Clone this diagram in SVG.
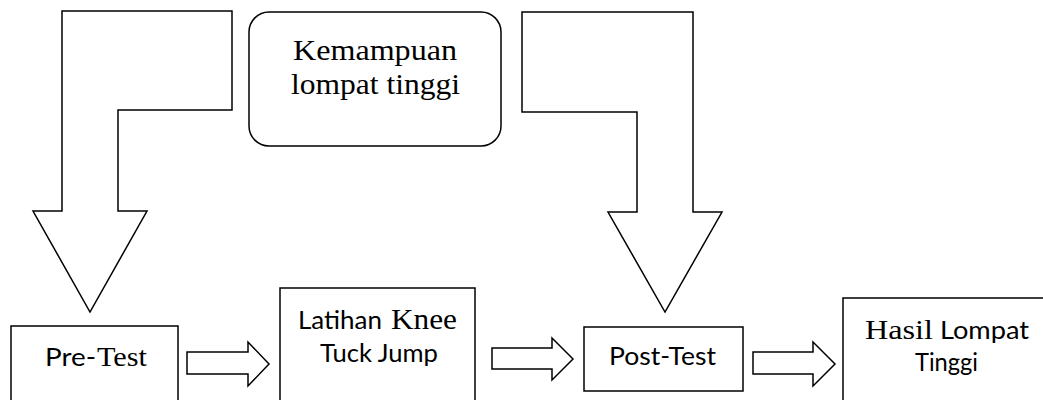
<svg xmlns="http://www.w3.org/2000/svg" width="1043" height="400" viewBox="0 0 1043 400">
<style>
.shape{fill:#fff;stroke:#000;stroke-width:1.5;stroke-linejoin:miter}
.serif{font-family:"Liberation Serif","Times New Roman",serif;fill:#000}
.sans{font-family:Lato,"Liberation Sans",Arial,sans-serif;fill:#000;font-size:25px}
</style>
<rect width="1043" height="400" fill="#fff"/>
<g id="connectors">
<polygon class="shape" points="62,11 232,11 232,110 118,110 118,211 147,211 90,312 33,211 62,211"/>
<polygon class="shape" points="522,12 693,12 693,212 722,212 665,312 608,212 637,212 637,112 522,112"/>
<polygon class="shape" points="187,352 248,352 248,342 269,364 248,386 248,374 187,374"/>
<polygon class="shape" points="492,348 552,348 552,338 573,359 552,380 552,369 492,369"/>
<polygon class="shape" points="753,352 813,352 813,342 835,364 813,386 813,374 753,374"/>
</g>
<g id="kemampuan">
<rect class="shape" x="249" y="12" width="252" height="134" rx="20" ry="20"/>
<text class="serif" font-size="30" x="293" y="60" textLength="164" lengthAdjust="spacingAndGlyphs">Kemampuan</text>
<text class="serif" font-size="30" x="291" y="94" textLength="169" lengthAdjust="spacingAndGlyphs">lompat tinggi</text>
</g>
<g id="pretest">
<rect class="shape" x="11" y="326" width="167" height="90"/>
<text class="sans" x="45" y="366" textLength="51" lengthAdjust="spacingAndGlyphs">Pre-</text>
<text class="serif" font-size="28" x="97" y="366" textLength="50" lengthAdjust="spacingAndGlyphs">Test</text>
</g>
<g id="latihan">
<rect class="shape" x="280" y="288" width="195" height="130"/>
<text class="sans" x="298" y="329" textLength="84" lengthAdjust="spacingAndGlyphs">Latihan</text>
<text class="serif" font-size="30" x="391" y="329" textLength="66" lengthAdjust="spacingAndGlyphs">Knee</text>
<text class="sans" x="320" y="362" textLength="118" lengthAdjust="spacingAndGlyphs">Tuck Jump</text>
</g>
<g id="posttest">
<rect class="shape" x="584" y="327" width="159" height="64"/>
<text class="sans" x="609" y="365" textLength="107" lengthAdjust="spacingAndGlyphs">Post-Test</text>
</g>
<g id="hasil">
<rect class="shape" x="843" y="298" width="220" height="120"/>
<text class="serif" font-size="28" x="865" y="339" textLength="68" lengthAdjust="spacingAndGlyphs">Hasil</text>
<text class="sans" x="940" y="339" textLength="89" lengthAdjust="spacingAndGlyphs">Lompat</text>
<text class="sans" x="915" y="371" textLength="63" lengthAdjust="spacingAndGlyphs">Tinggi</text>
</g>
</svg>
